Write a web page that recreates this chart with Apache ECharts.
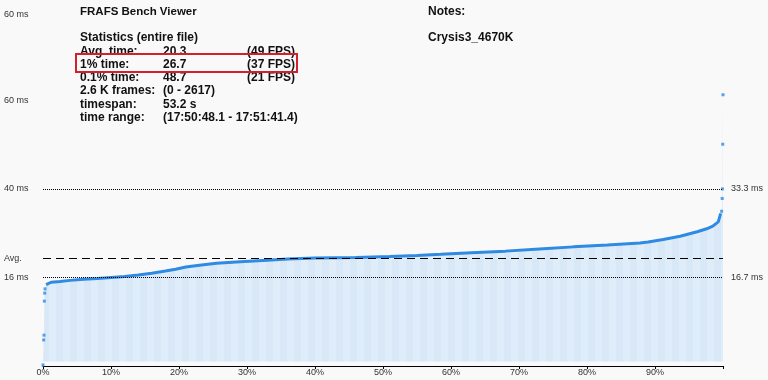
<!DOCTYPE html>
<html><head><meta charset="utf-8">
<script src="https://cdn.jsdelivr.net/npm/echarts@6/dist/echarts.min.js"></script>
<style>html,body{margin:0;padding:0;background:#f9f9f9}#c{width:768px;height:380px}</style>
</head><body><div id="c"></div>
<script>
// ---- data (percentile of frames sorted by frame time, frame time in ms) ----
const lowPct  = [0, 0.1, 0.15, 0.2, 0.25, 0.3];
const lowMs   = [0.2, 4.9, 5.8, 12.2, 13.7, 14.5];
const curvePct = [0.45, 0.7, 1.2, 2.5, 4, 6, 8, 10, 12, 14, 16, 18, 19.5, 21, 23, 25.5, 29, 33, 36, 40, 46, 51, 55, 58.5, 63, 68, 73, 78, 83, 87.8, 89, 91.2, 93.7, 96.2, 97.6, 98.5, 99.3, 99.66];
const curveMs  = [15.3, 15.55, 15.75, 15.9, 16.1, 16.3, 16.45, 16.65, 16.85, 17.1, 17.45, 17.85, 18.2, 18.6, 18.95, 19.3, 19.6, 19.9, 20.1, 20.3, 20.4, 20.6, 20.8, 21.0, 21.3, 21.6, 22.0, 22.4, 22.75, 23.13, 23.3, 23.8, 24.4, 25.25, 25.8, 26.3, 27.1, 28.7];
const highPct = [99.8, 99.88, 99.92, 99.96, 100];
const highMs  = [29.1, 31.5, 33.3, 41.7, 51.0];

const avgMs = 20.3;
const fps30Ms = 33.3;
const fps60Ms = 16.7;

const xTicks = [0, 10, 20, 30, 40, 50, 60, 70, 80, 90];
const leftTickValues = [66, 50, 33.3, 20.3, 16.7];
const leftTickLabels = ['60 ms', '60 ms', '40 ms', 'Avg.', '16 ms'];
const rightTickValues = [33.3, 16.7];
const rightTickLabels = ['33.3 ms', '16.7 ms'];

const statRows = [
  ['Avg. time:', '20.3', '(49 FPS)'],
  ['1% time:', '26.7', '(37 FPS)'],
  ['0.1% time:', '48.7', '(21 FPS)'],
  ['2.6 K frames:', '(0 - 2617)', ''],
  ['timespan:', '53.2 s', ''],
  ['time range:', '(17:50:48.1 - 17:51:41.4)', '']
];
const titleText = 'FRAFS Bench Viewer';
const statsHeader = 'Statistics (entire file)';
const notesHeader = 'Notes:';
const notesText = 'Crysis3_4670K';

// ---- build ----
const zip = (a, b) => a.map((v, i) => [v, b[i]]);
const lowData = zip(lowPct, lowMs);
const curveData = zip(curvePct, curveMs);
const highData = zip(highPct, highMs);
const allData = lowData.concat(curveData, highData);

const FONT = 'Liberation Sans';
const graphics = [];
function txt(x, y, s, size) {
  graphics.push({type: 'text', x: x, y: y + 1.5, style: {text: s, fill: '#111', verticalAlign: 'middle', align: 'left', font: 'bold ' + (size || 12) + 'px "' + FONT + '"'}});
}
txt(80, 10, titleText, 11.5);
txt(80, 36, statsHeader);
const rowY = [50, 63, 76, 89, 103, 116];
statRows.forEach((r, i) => {
  txt(80, rowY[i], r[0]);
  txt(163, rowY[i], r[1]);
  if (r[2]) txt(247, rowY[i], r[2]);
});
txt(428, 10, notesHeader);
txt(428, 36, notesText);
graphics.push({type: 'rect', x: 76, y: 54, shape: {width: 221, height: 18}, style: {fill: 'none', stroke: '#d4202a', lineWidth: 2}});

// striped fill pattern (histogram-like columns)
const pc = document.createElement('canvas');
pc.width = 14; pc.height = 4;
const pctx = pc.getContext('2d');
pctx.fillStyle = '#d8e8f7'; pctx.fillRect(0, 0, 7, 4);
pctx.fillStyle = '#dfecf9'; pctx.fillRect(7, 0, 7, 4);

const chart = echarts.init(document.getElementById('c'));
chart.setOption({
  backgroundColor: '#f9f9f9',
  animation: false,
  grid: {left: 43, right: 45, top: 15, bottom: 14},
  xAxis: {
    type: 'value', min: 0, max: 100, interval: 10,
    axisLine: {show: true, onZero: false, lineStyle: {color: '#000', width: 1}},
    axisTick: {show: true, length: 3, lineStyle: {color: '#000'}},
    splitLine: {show: false},
    axisLabel: {
      margin: 2, fontSize: 9, color: '#333', fontFamily: FONT,
      customValues: xTicks,
      formatter: v => v + '%'
    }
  },
  yAxis: [{
    type: 'value', min: 0, max: 66,
    axisLine: {show: false}, axisTick: {show: false}, splitLine: {show: false},
    axisLabel: {
      customValues: leftTickValues, align: 'left', margin: 39,
      fontSize: 9, color: '#333', fontFamily: FONT,
      formatter: v => leftTickLabels[leftTickValues.indexOf(v)]
    }
  }, {
    type: 'value', min: 0, max: 66, position: 'right',
    axisLine: {show: false}, axisTick: {show: false}, splitLine: {show: false},
    axisLabel: {
      customValues: rightTickValues, align: 'left', margin: 8,
      fontSize: 9, color: '#333', fontFamily: FONT,
      formatter: v => rightTickLabels[rightTickValues.indexOf(v)]
    }
  }],
  series: [{
    type: 'line', data: allData, symbol: 'none', silent: true,
    lineStyle: {width: 0},
    areaStyle: {color: {image: pc, repeat: 'repeat'}, opacity: 1, origin: 0.85},
    z: 1
  }, {
    type: 'line', data: curveData, symbol: 'none', silent: true,
    lineStyle: {width: 3, color: '#2e8ae2'},
    z: 3,
    markLine: {
      silent: true, symbol: 'none', label: {show: false},
      data: [
        {yAxis: fps30Ms, lineStyle: {type: [1, 1], color: '#000', width: 1}},
        {yAxis: avgMs, lineStyle: {type: [8, 5], color: '#000', width: 1}},
        {yAxis: fps60Ms, lineStyle: {type: [1, 1], color: '#000', width: 1}}
      ]
    }
  }, {
    type: 'scatter', data: lowData.concat(highData), symbol: 'rect', symbolSize: 3,
    itemStyle: {color: '#2e8ae2'}, silent: true, z: 4
  }],
  graphic: graphics
});
</script>
</body></html>
